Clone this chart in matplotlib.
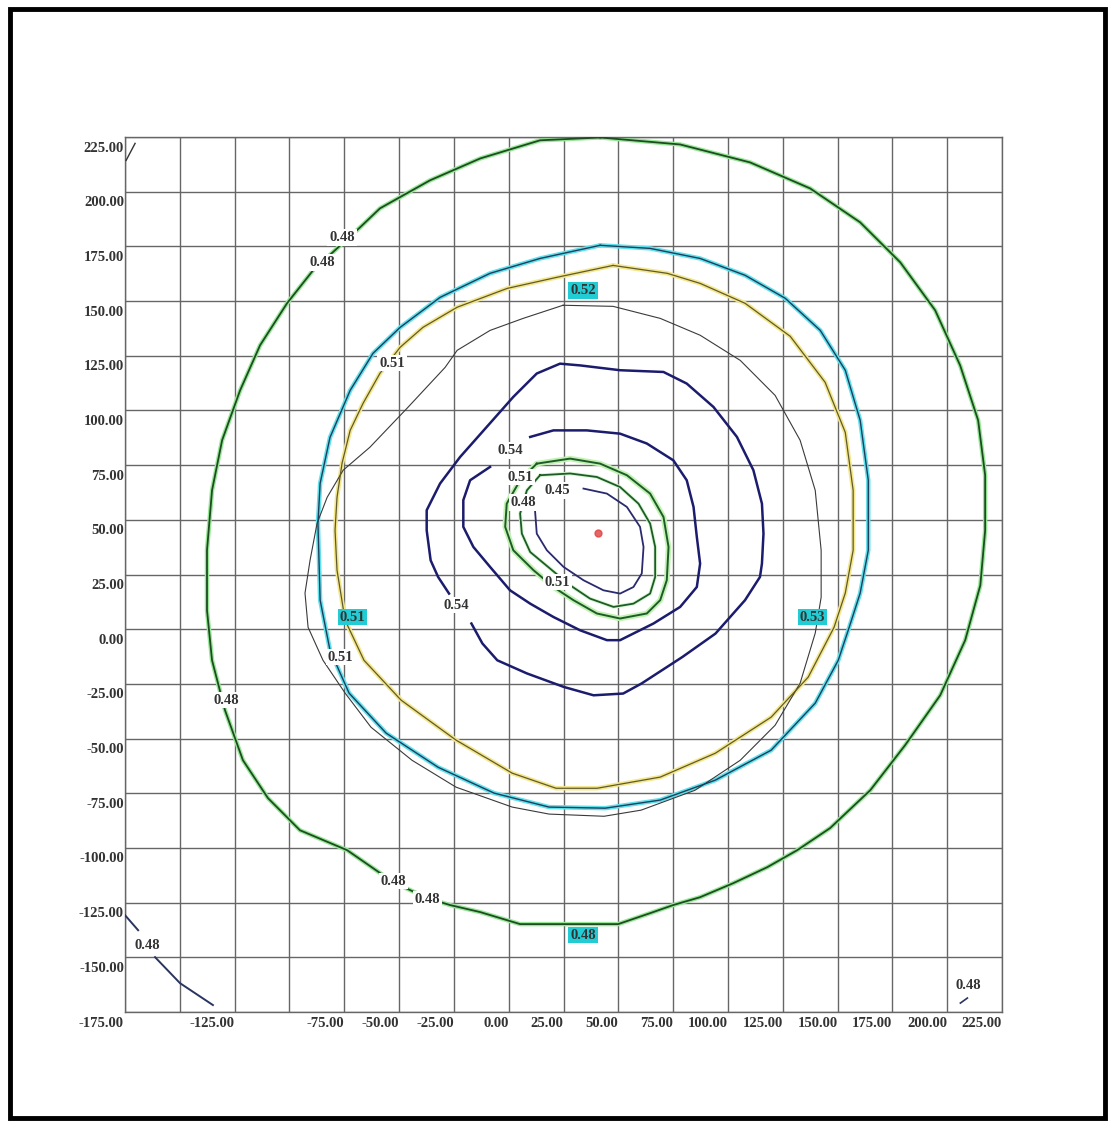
import matplotlib
matplotlib.use('Agg')
import matplotlib.pyplot as plt
import matplotlib.transforms as mtransforms
from matplotlib.patches import Rectangle

# grid / tick values
grid_ticks = list(range(-175, 226, 25))
x_label_ticks = [-125, -75, -50, -25, 0, 25, 50, 75, 100, 125, 150, 175, 200, 225]
y_label_ticks = grid_ticks

# contour rings (data coords)
ring48_x = [41.7, 78.2, 110.1, 137.5, 160.3, 178.6, 194.5, 205.9, 214.1, 217.3, 217.3, 215.1, 208.2, 196.8, 180.8,
            164.9, 146.6, 131.6, 117.9, 102.4, 87.3, 75.0, 64.5, 49.9, 5.2, -13.0, -26.7, -37.2, -52.7, -61.9, -73.7,
            -95.2, -109.8, -121.2, -129.4, -135.3, -137.6, -137.6, -135.3, -130.7, -122.5, -113.4, -101.1, -89.2,
            -67.8, -58.7, -35.9, -13.0, 14.3]
ring48_y = [224.8, 221.6, 213.4, 201.5, 186.0, 167.7, 145.8, 120.6, 95.5, 70.4, 45.2, 20.1, -5.0, -30.2, -53.0,
            -73.6, -90.9, -101.0, -108.8, -116.1, -122.5, -126.1, -129.8, -134.8, -134.8, -129.3, -126.1, -122.9,
            -115.6, -109.2, -101.0, -91.9, -77.2, -59.9, -37.0, -14.2, 8.7, 36.1, 63.5, 86.4, 109.2, 129.8, 149.0,
            164.1, 183.7, 192.4, 205.2, 215.2, 223.5]

cyan_x = [41.7, 64.5, 87.3, 107.8, 126.1, 142.1, 153.5, 160.3, 164.0, 164.0, 160.3, 155.3, 150.3, 139.8, 119.7,
          94.2, 69.1, 44.0, 18.4, -6.7, -32.2, -55.9, -72.8, -81.5, -86.0, -87.0, -86.0, -81.5, -72.3, -61.9,
          -49.5, -31.3, -8.5, 14.3]
cyan_y = [175.5, 174.1, 169.5, 161.8, 151.3, 136.6, 118.4, 95.5, 68.1, 36.1, 16.5, 0.9, -14.2, -33.8, -55.3,
          -69.0, -78.1, -81.8, -81.3, -74.9, -63.1, -47.5, -29.2, -9.6, 13.3, 48.4, 66.7, 87.7, 109.2, 126.1,
          138.0, 151.7, 162.7, 169.5]

yellow_x = [47.6, 72.3, 87.3, 107.8, 128.4, 144.3, 153.5, 157.1, 157.1, 153.5, 148.4, 136.6, 119.7, 94.2, 69.1,
            40.3, 21.6, 1.6, -24.0, -49.1, -66.0, -74.6, -78.3, -79.2, -78.3, -76.0, -72.3, -66.4, -58.7, -49.5,
            -39.1, -23.5, -0.7, 22.1]
yellow_y = [166.3, 162.7, 158.1, 149.0, 133.9, 112.9, 90.0, 63.5, 36.1, 16.5, 0.9, -21.9, -40.2, -56.7, -67.6,
            -72.7, -72.7, -65.8, -50.7, -32.4, -14.2, 4.1, 27.0, 45.2, 60.3, 75.9, 90.9, 103.3, 117.0, 128.9,
            138.0, 147.2, 155.8, 160.9]

thin_x = [24.8, 47.6, 69.1, 87.3, 105.6, 121.5, 132.9, 139.8, 142.5, 142.5, 139.8, 132.9, 121.5, 105.6, 85.0,
          60.4, 43.5, 18.4, 1.6, -24.0, -44.1, -62.8, -74.6, -84.7, -91.5, -92.9, -90.6, -87.4, -82.8, -75.5,
          -63.3, -45.9, -29.0, -23.5, -8.5, 6.6]
thin_y = [148.1, 147.6, 142.1, 134.4, 122.9, 106.9, 86.4, 63.5, 36.1, 14.6, -1.8, -24.7, -43.9, -59.9, -73.6,
          -82.7, -85.5, -84.5, -81.3, -72.2, -59.9, -44.8, -29.2, -14.2, 0.9, 16.5, 31.5, 48.4, 60.3, 72.7,
          83.2, 101.5, 119.7, 127.5, 136.6, 142.1]

navy_outer_x = [-27.2, -32.2, -35.6, -37.4, -37.4, -31.3, -22.2, -10.0, 2.1, 12.8, 23.4, 32.6, 50.8, 70.6, 81.2,
                93.4, 104.1, 111.6, 115.5, 116.2, 115.5, 114.6, 107.8, 94.3, 79.2, 60.6, 52.2, 38.7, 25.2, 8.3,
                -5.2, -12.0, -17.0]
navy_outer_y = [16.3, 23.9, 31.5, 45.2, 54.4, 66.6, 78.7, 92.5, 106.2, 116.9, 121.4, 120.6, 118.4, 117.6, 112.3,
                101.6, 87.9, 72.7, 57.4, 43.7, 30.0, 23.9, 13.3, -2.0, -12.7, -24.8, -29.4, -30.2, -26.4, -20.2,
                -14.2, -6.5, 2.6]

navy_inner_x = [9.8, 20.4, 35.6, 50.8, 63.0, 75.1, 81.2, 84.3, 85.8, 87.3, 85.8, 78.2, 66.0, 50.8, 44.8, 32.6,
                20.4, 9.8, 0.6, -8.5, -16.1, -20.7, -20.7, -17.6, -8.5]
navy_inner_y = [87.9, 90.9, 90.9, 89.4, 84.9, 77.2, 68.1, 55.9, 42.2, 30.0, 19.3, 10.2, 2.6, -5.0, -5.0, -0.5,
                5.6, 11.7, 17.8, 28.5, 37.6, 46.8, 59.0, 68.1, 74.2]

core51_x = [12.8, 28.0, 41.7, 53.9, 64.5, 70.6, 72.9, 72.1, 69.1, 63.0, 50.8, 40.2, 29.5, 20.4, 11.3, 2.1, -1.6,
            -0.9, 5.2]
core51_y = [75.7, 78.0, 75.7, 70.4, 62.0, 51.3, 37.6, 22.4, 13.3, 7.2, 4.9, 7.2, 13.3, 19.3, 27.0, 36.1, 46.8,
            57.4, 68.1]

core48_x = [14.3, 28.0, 40.2, 50.8, 59.2, 64.5, 66.8, 66.8, 64.5, 56.9, 47.8, 37.1, 28.0, 18.9, 9.8, 6.0, 5.2, 8.3]
core48_y = [70.4, 71.2, 69.6, 65.0, 57.4, 48.3, 37.6, 23.9, 16.3, 11.7, 10.2, 14.0, 20.1, 27.7, 35.3, 43.7, 52.9,
            63.5]

core45_x = [34.1, 44.8, 53.9, 59.9, 61.5, 60.7, 56.9, 50.8, 43.2, 34.1, 25.0, 17.4, 12.8, 12.0, 12.8]
core45_y = [64.3, 62.0, 55.9, 46.8, 37.6, 25.5, 19.3, 16.3, 17.8, 22.4, 28.5, 36.1, 43.7, 54.4, 59.0]

# corner fragments of the 0.48 level
corner_bl_x = [-175.0, -169.0, None, -161.3, -149.9, -134.9]
corner_bl_y = [-130.7, -137.6, None, -149.9, -161.8, -171.8]
corner_tl_x = [-174.5, -170.4]
corner_tl_y = [214.3, 222.1]
corner_br_x = [206.0, 209.2]
corner_br_y = [-170.9, -168.6]

peak_x, peak_y = 40.8, 43.9

# contour labels: text, x, y, boxed
label_text = ['0.48', '0.48', '0.52', '0.51', '0.54', '0.51', '0.45', '0.48', '0.51', '0.54',
              '0.51', '0.53', '0.51', '0.48', '0.48', '0.48', '0.48', '0.48', '0.48']
label_x = [-76.0, -85.1, 33.9, -53.2, 0.6, 5.2, 22.1, 6.6, 22.1, -24.0,
           -71.4, 138.4, -76.9, -128.9, -52.7, -37.2, 33.9, -165.0, 209.6]
label_y = [179.1, 167.7, 154.9, 121.6, 81.8, 69.5, 63.5, 58.0, 21.5, 11.0,
           5.5, 5.5, -12.8, -32.4, -115.2, -123.4, -139.8, -144.4, -162.7]
label_boxed = [False, False, True, False, False, False, False, False, False, False,
               True, True, False, False, False, False, True, False, False]


def closed(xs, ys):
  return xs + xs[:1], ys + ys[:1]


plt.rcParams['font.family'] = ['Liberation Serif', 'DejaVu Serif']
fig = plt.figure(figsize=(11.13, 11.26), dpi=100)
ax = fig.add_axes([0.1123, 0.1012, 0.788, 0.7771])
ax.set_xlim(-175, 225)
ax.set_ylim(-175, 225)

ax.set_xticks(grid_ticks)
ax.set_yticks(grid_ticks)
ax.set_xticklabels([])
ax.set_yticklabels([])
ax.tick_params(length=0)
ax.grid(True, color='#666666', linewidth=1.0)
for s in ax.spines.values():
  s.set_color('#666666')
  s.set_linewidth(1.0)

# halo + line pairs
def ring(xs, ys, line_color, lw, halo=None, halo_lw=3.2, close=True):
  if close:
    xs, ys = closed(xs, ys)
  if halo:
    ax.plot(xs, ys, color=halo, linewidth=halo_lw, solid_capstyle='round', zorder=2)
  ax.plot(xs, ys, color=line_color, linewidth=lw, zorder=3)

ring(ring48_x, ring48_y, '#1f4a22', 1.3, halo='#96e896')
ring(thin_x, thin_y, '#3a3a3a', 0.8)
ring(cyan_x, cyan_y, '#1f3d5a', 1.0, halo='#5fe0ec')
ring(yellow_x, yellow_y, '#5e5a30', 0.9, halo='#f4e68a')
ring(navy_outer_x, navy_outer_y, '#1c1c6e', 1.8, close=False)
ring(navy_inner_x, navy_inner_y, '#1c1c6e', 1.8, close=False)
ring(core51_x, core51_y, '#1e5a2a', 1.4, halo='#c0f2b0', halo_lw=4.0)
ring(core48_x, core48_y, '#1e5a2a', 1.3, halo='#d2f7ca', halo_lw=2.6)
ring(core45_x, core45_y, '#2a2a6e', 1.3, close=False)
ax.plot(corner_bl_x, corner_bl_y, color='#2a3460', linewidth=1.4, zorder=3)
ax.plot(corner_tl_x, corner_tl_y, color='#333333', linewidth=1.0, zorder=3)
ax.plot(corner_br_x, corner_br_y, color='#2a3460', linewidth=1.2, zorder=3)
ax.plot(peak_x, peak_y, 'o', color='#e04040', markersize=5, alpha=0.8, zorder=4)

for t, x, y, b in zip(label_text, label_x, label_y, label_boxed):
  box = dict(boxstyle='square,pad=0.12', fc='#22ccd4' if b else 'white', ec='none')
  ax.text(x, y, t, ha='center', va='center', fontsize=10.5, fontweight='bold', color='#333333',
          bbox=box, zorder=5)

# axis labels, drawn below-right of each grid line like the original
xoff = mtransforms.offset_copy(ax.transData, fig=fig, x=0, y=-11, units='dots')
yoff = mtransforms.offset_copy(ax.transData, fig=fig, x=-1, y=-11, units='dots')
for v in x_label_ticks:
  ax.text(v, -175, '%.2f' % v, transform=xoff, ha='right', va='center', fontsize=10.5,
          fontweight='bold', color='#333333', clip_on=False)
for v in y_label_ticks:
  ax.text(-175, v, '%.2f' % v, transform=yoff, ha='right', va='center', fontsize=10.5,
          fontweight='bold', color='#333333', clip_on=False)

fig.patches.append(Rectangle((0.009, 0.0071), 0.984, 0.985, transform=fig.transFigure,
                             fill=False, edgecolor='black', linewidth=3.5))
fig.savefig('out.png', dpi=100)
